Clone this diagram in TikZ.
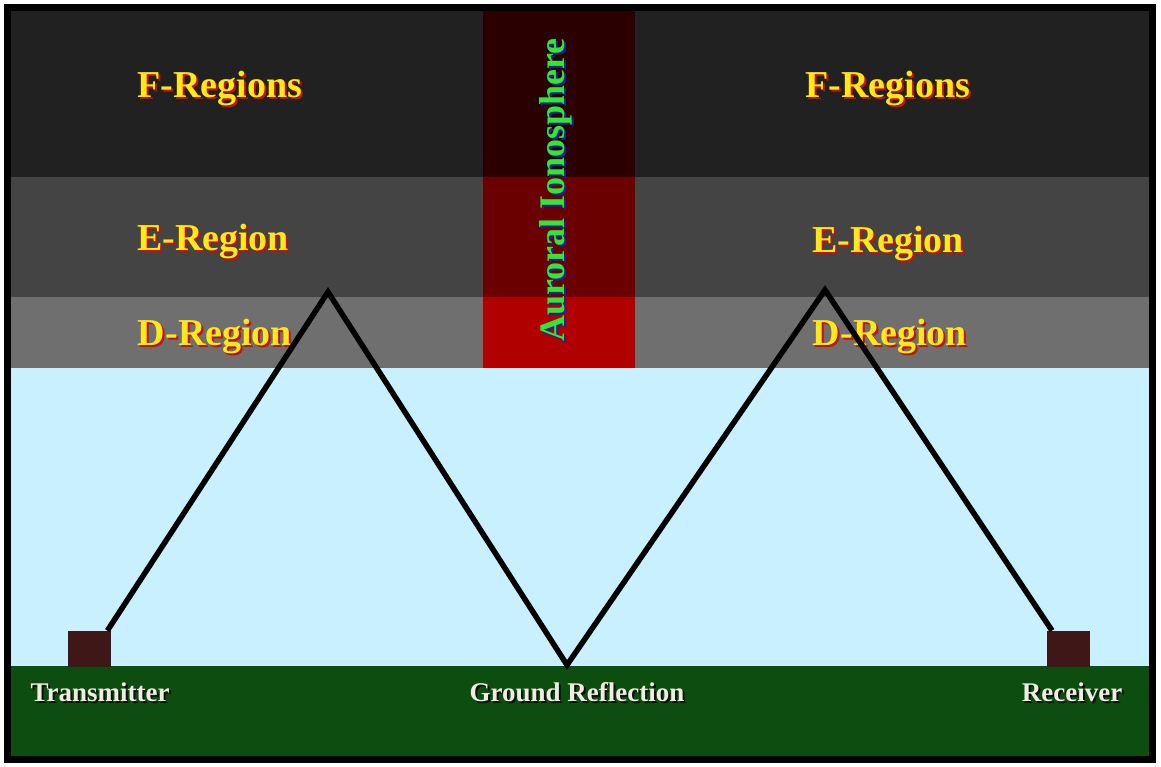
\documentclass[tikz,border=0pt]{standalone}
\usepackage{fontspec}
\setmainfont{Liberation Serif}
\definecolor{fcol}{HTML}{212121}
\definecolor{ecol}{HTML}{444444}
\definecolor{dcol}{HTML}{6F6F6F}
\definecolor{skycol}{HTML}{C9F0FF}
\definecolor{groundcol}{HTML}{0E4D10}
\definecolor{aurtop}{HTML}{2B0000}
\definecolor{aurmid}{HTML}{6B0000}
\definecolor{aurbot}{HTML}{B00000}
\definecolor{boxcol}{HTML}{3F1717}
\definecolor{labyellow}{HTML}{FFE81A}
\definecolor{labshadow}{HTML}{C01010}
\definecolor{aurgreen}{HTML}{33E633}
\definecolor{aurblue}{HTML}{2020A0}
\definecolor{gtext}{HTML}{EDEDE0}
\definecolor{gshadow}{HTML}{101010}
\tikzset{
  regionlbl/.style={font=\fontsize{38}{40}\selectfont\bfseries, inner sep=0pt},
  groundlbl/.style={font=\fontsize{27}{29}\selectfont\bfseries, inner sep=0pt},
  aurlbl/.style={font=\fontsize{36}{38}\selectfont\bfseries, inner sep=0pt, rotate=90},
  sitebox/.style={fill=boxcol, draw=none, minimum width=43pt, minimum height=36pt, inner sep=0pt},
  ray/.style={draw=black, line width=5.5pt, line join=miter},
}
\begin{document}
\begin{tikzpicture}[x=1pt,y=-1pt]
\useasboundingbox (0,0) rectangle (1161,767);
\fill[white] (0,0) rectangle (1161,767);
% bands
\fill[fcol] (7,8) rectangle (1152,177);
\fill[ecol] (7,177) rectangle (1152,297);
\fill[dcol] (7,297) rectangle (1152,368);
\fill[skycol] (7,368) rectangle (1152,666);
\fill[groundcol] (7,666) rectangle (1152,759);
% auroral column
\fill[aurtop] (483,8) rectangle (635,177);
\fill[aurmid] (483,177) rectangle (635,297);
\fill[aurbot] (483,297) rectangle (635,368);
% frame
\draw[black, line width=7pt] (7,8) rectangle (1152,759);
% region labels
\node[regionlbl, text=labshadow] (fls) at (222,91) {F-Regions};
\node[regionlbl, text=labyellow] (fl) at (220,89) {F-Regions};
\node[regionlbl, text=labshadow] (frs) at (890,91) {F-Regions};
\node[regionlbl, text=labyellow] (fr) at (888,89) {F-Regions};
\node[regionlbl, text=labshadow] (els) at (215,244) {E-Region};
\node[regionlbl, text=labyellow] (el) at (213,242) {E-Region};
\node[regionlbl, text=labshadow] (ers) at (890,246) {E-Region};
\node[regionlbl, text=labyellow] (er) at (888,244) {E-Region};
\node[regionlbl, text=labshadow] (dls) at (217,339) {D-Region};
\node[regionlbl, text=labyellow] (dl) at (215,337) {D-Region};
\node[regionlbl, text=labshadow] (drs) at (892,339) {D-Region};
\node[regionlbl, text=labyellow] (dr) at (890,337) {D-Region};
% auroral label
\node[aurlbl, text=aurblue] (auts) at (558,192) {Auroral Ionosphere};
\node[aurlbl, text=aurgreen] (aut) at (556,190) {Auroral Ionosphere};
% sites
\node[sitebox, anchor=south west] (tx) at (68,667) {};
\node[sitebox, anchor=south west] (rx) at (1047,667) {};
% ray path
\coordinate (p1) at (328,292);
\coordinate (gr) at (567,665);
\coordinate (p2) at (825,290);
\draw[ray] ([xshift=-4pt]tx.north east) -- (p1) -- (gr) -- (p2) -- ([xshift=5pt]rx.north west);
% ground labels
\node[groundlbl, text=gshadow] (txls) at (102,694) {Transmitter};
\node[groundlbl, text=gtext] (txl) at (100,692) {Transmitter};
\node[groundlbl, text=gshadow] (grls) at (579,694) {Ground Reflection};
\node[groundlbl, text=gtext] (grl) at (577,692) {Ground Reflection};
\node[groundlbl, text=gshadow] (rxls) at (1074,694) {Receiver};
\node[groundlbl, text=gtext] (rxl) at (1072,692) {Receiver};
\end{tikzpicture}
\end{document}
